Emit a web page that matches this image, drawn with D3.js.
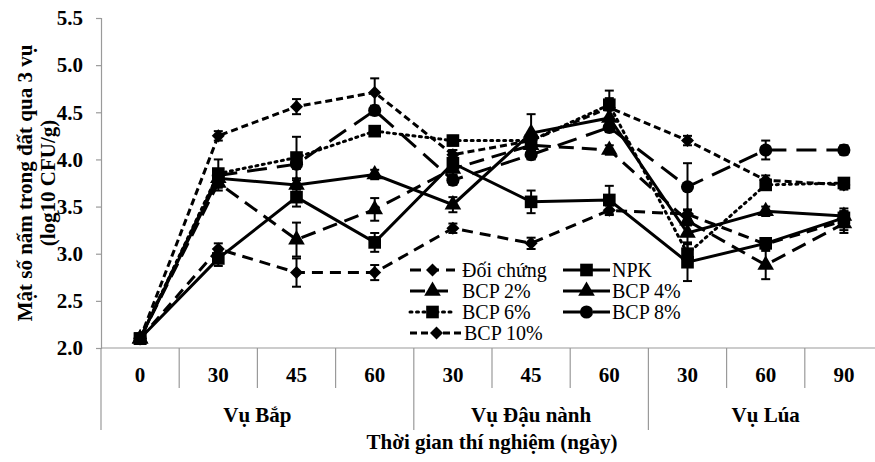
<!DOCTYPE html>
<html>
<head>
<meta charset="utf-8">
<script src="https://cdn.jsdelivr.net/npm/d3@7"></script>
<style>
  body { margin: 0; background: #fff; }
  svg { display: block; }
  text { font-family: "Liberation Serif", "Times New Roman", serif; font-weight: bold; fill: #000; }
</style>
</head>
<body>
<svg id="chart" width="875" height="462"></svg>
<script>
// categories on the x axis (days) and the crop seasons they belong to
const days = ["0", "30", "45", "60", "30", "45", "60", "30", "60", "90"];
const seasons = [
  {name: "Vụ Bắp", from: 0, to: 3},
  {name: "Vụ Đậu nành", from: 4, to: 6},
  {name: "Vụ Lúa", from: 7, to: 9}
];
const yTicks = [2.0, 2.5, 3.0, 3.5, 4.0, 4.5, 5.0, 5.5];

// series values (log10 CFU/g)
const doiChung = [2.1, 3.05, 2.8, 2.8, 3.27, 3.11, 3.46, 3.42, 3.1, 3.35];
const npk      = [2.1, 2.95, 3.6, 3.12, 3.96, 3.55, 3.57, 2.91, 3.11, 3.38];
const bcp2     = [2.1, 3.75, 3.15, 3.47, 3.9, 4.15, 4.1, 3.35, 2.88, 3.32];
const bcp4     = [2.1, 3.8, 3.73, 3.84, 3.52, 4.28, 4.44, 3.22, 3.45, 3.4];
const bcp6     = [2.1, 3.85, 4.02, 4.3, 4.2, 4.2, 4.58, 3.0, 3.73, 3.75];
const bcp8     = [2.1, 3.83, 3.95, 4.52, 3.78, 4.05, 4.34, 3.71, 4.1, 4.1];
const bcp10    = [2.1, 4.25, 4.56, 4.71, 4.05, 4.2, 4.55, 4.2, 3.78, 3.73];

// error bars (+/-)
const errDoiChung = [0.02, 0.06, 0.15, 0.08, 0.05, 0.06, 0.05, 0.05, 0.05, 0.1];
const errNpk      = [0.02, 0.08, 0.1, 0.1, 0.08, 0.12, 0.15, 0.2, 0.05, 0.1];
const errBcp2     = [0.02, 0.08, 0.18, 0.12, 0.06, 0.08, 0.05, 0.05, 0.15, 0.1];
const errBcp4     = [0.02, 0.05, 0.05, 0.05, 0.08, 0.2, 0.08, 0.1, 0.05, 0.05];
const errBcp6     = [0.02, 0.15, 0.22, 0.05, 0.05, 0.05, 0.15, 0.1, 0.05, 0.05];
const errBcp8     = [0.02, 0.05, 0.05, 0.05, 0.05, 0.05, 0.05, 0.25, 0.1, 0.05];
const errBcp10    = [0.02, 0.05, 0.08, 0.15, 0.05, 0.05, 0.1, 0.05, 0.05, 0.05];

const series = [
  {name: "Đối chứng", values: doiChung, err: errDoiChung, dash: "11,7", symbol: "diamond"},
  {name: "NPK",       values: npk,      err: errNpk,      dash: null,  symbol: "square"},
  {name: "BCP 2%",    values: bcp2,     err: errBcp2,     dash: "15,8", symbol: "triangle"},
  {name: "BCP 4%",    values: bcp4,     err: errBcp4,     dash: null,  symbol: "triangle"},
  {name: "BCP 6%",    values: bcp6,     err: errBcp6,     dash: "2,4.5", symbol: "square"},
  {name: "BCP 8%",    values: bcp8,     err: errBcp8,     dash: "20,10", symbol: "circle"},
  {name: "BCP 10%",   values: bcp10,    err: errBcp10,    dash: "7,4", symbol: "diamond"}
];

const svg = d3.select("#chart");
const plot = {left: 101, right: 883, top: 18, bottom: 348};

const x = d3.scaleBand().domain(d3.range(days.length)).range([plot.left, plot.right]).padding(0);
const y = d3.scaleLinear().domain([2.0, 5.5]).range([plot.bottom, plot.top]);
const cx = i => x(i) + x.bandwidth() / 2;

const axisColor = "#9a9a9a";
const fs = "21px";

// y axis
const yAxis = svg.append("g")
  .attr("transform", `translate(${plot.left},0)`)
  .call(d3.axisLeft(y).tickValues(yTicks).tickFormat(d3.format(".1f")).tickSize(5).tickPadding(13));
yAxis.select(".domain").attr("stroke", axisColor).attr("stroke-width", 1.2);
yAxis.selectAll(".tick line").attr("stroke", axisColor).attr("stroke-width", 1.2);
yAxis.selectAll(".tick text")
  .style("font-family", "'Liberation Serif', serif").style("font-weight", "bold")
  .style("font-size", fs).attr("fill", "#000");

// x axis line
svg.append("line")
  .attr("x1", plot.left).attr("x2", plot.right)
  .attr("y1", plot.bottom).attr("y2", plot.bottom)
  .attr("stroke", axisColor).attr("stroke-width", 1.2);

// category separators
const groupStarts = seasons.map(s => s.from);
d3.range(days.length + 1).forEach(i => {
  const xi = i < days.length ? x(i) : plot.right;
  const long = groupStarts.includes(i) || i === days.length;
  svg.append("line")
    .attr("x1", xi).attr("x2", xi)
    .attr("y1", plot.bottom).attr("y2", long ? 430 : 388)
    .attr("stroke", axisColor).attr("stroke-width", 1.2);
});

// day labels
svg.selectAll(".day")
  .data(days)
  .join("text")
  .attr("class", "day")
  .attr("x", (d, i) => cx(i))
  .attr("y", 382)
  .attr("text-anchor", "middle")
  .style("font-size", fs)
  .text(d => d);

// season labels
svg.selectAll(".season")
  .data(seasons)
  .join("text")
  .attr("class", "season")
  .attr("x", d => (x(d.from) + x(d.to) + x.bandwidth()) / 2)
  .attr("y", 422)
  .attr("text-anchor", "middle")
  .style("font-size", fs)
  .text(d => d.name);

// axis titles
svg.append("text")
  .attr("x", 492).attr("y", 449)
  .attr("text-anchor", "middle")
  .style("font-size", fs)
  .text("Thời gian thí nghiệm (ngày)");

const yTitle = svg.append("g").attr("transform", "translate(0,183) rotate(-90)");
yTitle.append("text").attr("x", 0).attr("y", 32).attr("text-anchor", "middle")
  .style("font-size", fs).text("Mật số nấm trong đất qua 3 vụ");
yTitle.append("text").attr("x", 0).attr("y", 55).attr("text-anchor", "middle")
  .style("font-size", fs).text("(log10 CFU/g)");

// markers
function symbolPath(kind) {
  if (kind === "square") return d3.symbol(d3.symbolSquare, 160)();
  if (kind === "triangle") return d3.symbol(d3.symbolTriangle, 120)();
  if (kind === "circle") return d3.symbol(d3.symbolCircle, 135)();
  return d3.symbol(d3.symbolSquare, 85)();
}
function symbolRotate(kind) { return kind === "diamond" ? " rotate(45)" : ""; }

const line = d3.line().x((d, i) => cx(i)).y(d => y(d));

const lines = svg.append("g");
series.forEach(s => {
  lines.append("path")
    .datum(s.values)
    .attr("d", line)
    .attr("fill", "none")
    .attr("stroke", "#000")
    .attr("stroke-width", 3)
    .attr("stroke-linecap", s.dash === "2,4.5" ? "round" : "butt")
    .attr("stroke-dasharray", s.dash);
});

// error bars
const errs = svg.append("g").attr("stroke", "#000").attr("stroke-width", 2);
series.forEach(s => {
  s.values.forEach((v, i) => {
    const xi = cx(i), y1 = y(v + s.err[i]), y2 = y(v - s.err[i]);
    errs.append("line").attr("x1", xi).attr("x2", xi).attr("y1", y1).attr("y2", y2);
    errs.append("line").attr("x1", xi - 4.5).attr("x2", xi + 4.5).attr("y1", y1).attr("y2", y1);
    errs.append("line").attr("x1", xi - 4.5).attr("x2", xi + 4.5).attr("y1", y2).attr("y2", y2);
  });
});

// points
const pts = svg.append("g");
series.forEach(s => {
  pts.selectAll(null)
    .data(s.values)
    .join("path")
    .attr("d", symbolPath(s.symbol))
    .attr("transform", (d, i) => `translate(${cx(i)},${y(d)})${symbolRotate(s.symbol)}`)
    .attr("fill", "#000");
});

// legend
const legendItems = [
  {s: series[0], x: 410, y: 270, w: 45, tx: 462},
  {s: series[1], x: 563, y: 270, w: 47, tx: 612},
  {s: series[2], x: 410, y: 291, w: 45, tx: 462},
  {s: series[3], x: 563, y: 291, w: 47, tx: 612},
  {s: series[4], x: 410, y: 312, w: 45, tx: 462},
  {s: series[5], x: 563, y: 312, w: 47, tx: 612},
  {s: series[6], x: 410, y: 333, w: 53, tx: 464}
];
const legend = svg.append("g");
legendItems.forEach(it => {
  legend.append("line")
    .attr("x1", it.x).attr("x2", it.x + it.w)
    .attr("y1", it.y).attr("y2", it.y)
    .attr("stroke", "#000").attr("stroke-width", 3)
    .attr("stroke-linecap", it.s.dash === "2,4.5" ? "round" : "butt")
    .attr("stroke-dasharray", it.s.dash);
  legend.append("path")
    .attr("d", symbolPath(it.s.symbol))
    .attr("transform", `translate(${it.x + it.w / 2},${it.y})${symbolRotate(it.s.symbol)}`)
    .attr("fill", "#000");
  legend.append("text")
    .attr("x", it.tx).attr("y", it.y + 7)
    .style("font-size", "20px").style("font-weight", "normal")
    .text(it.s.name);
});
</script>
</body>
</html>
